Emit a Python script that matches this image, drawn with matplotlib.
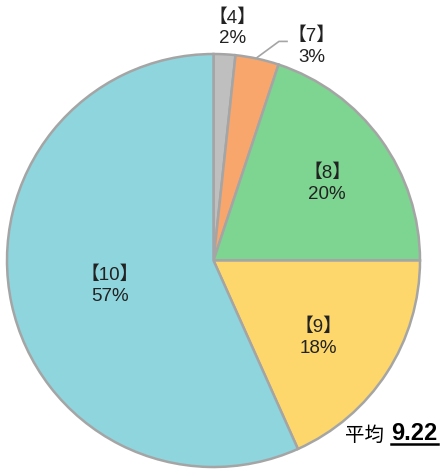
import matplotlib
matplotlib.use("Agg")
from matplotlib import pyplot as plt

plt.rcParams['font.family'] = ['Liberation Sans', 'Noto Sans CJK JP']

scores = ["4", "7", "8", "9", "10"]
shares = [1.7, 3.4, 19.9, 18.3, 56.7]
pct_labels = ["2%", "3%", "20%", "18%", "57%"]
colors = ["#BFBFBF", "#F9A66C", "#7ED491", "#FDD76C", "#8FD5DD"]
mean_score = "9.22"

# label centres in pie units (radius = 1)
label_pos = [(0.094, 1.125), (0.477, 1.036), (0.550, 0.373), (0.506, -0.373), (-0.501, -0.121)]

fig = plt.figure(figsize=(4.47, 4.76), dpi=100)
ax = fig.add_axes([7 / 447, 9 / 476, 413 / 447, 413 / 476])
ax.pie(shares, colors=colors, startangle=90, counterclock=False,
       wedgeprops=dict(edgecolor="#A5A5A5", linewidth=1.8))
ax.set_xlim(-1, 1)
ax.set_ylim(-1, 1)
ax.set_aspect("equal")
ax.axis("off")

for s, p, (x, y) in zip(scores, pct_labels, label_pos):
    ax.text(x, y, "【" + s + "】\n" + p, ha="center", va="center",
            fontsize=13.5, linespacing=1.28, color="#222222", clip_on=False)

# leader line for the small slice
ax.plot([0.211, 0.317, 0.356], [0.983, 1.061, 1.061], color="#A5A5A5",
        linewidth=1.2, clip_on=False)

fig.text(345 / 447, 1 - 441 / 476, "平均", fontsize=14, ha="left", va="baseline")
fig.text(391 / 447, 1 - 440 / 476, mean_score, fontsize=17, fontweight="bold",
         ha="left", va="baseline")
fig.add_artist(plt.Line2D([391 / 447, 438 / 447], [1 - 444 / 476, 1 - 444 / 476],
                          color="black", linewidth=1.8))

fig.savefig("out.png", dpi=100)
